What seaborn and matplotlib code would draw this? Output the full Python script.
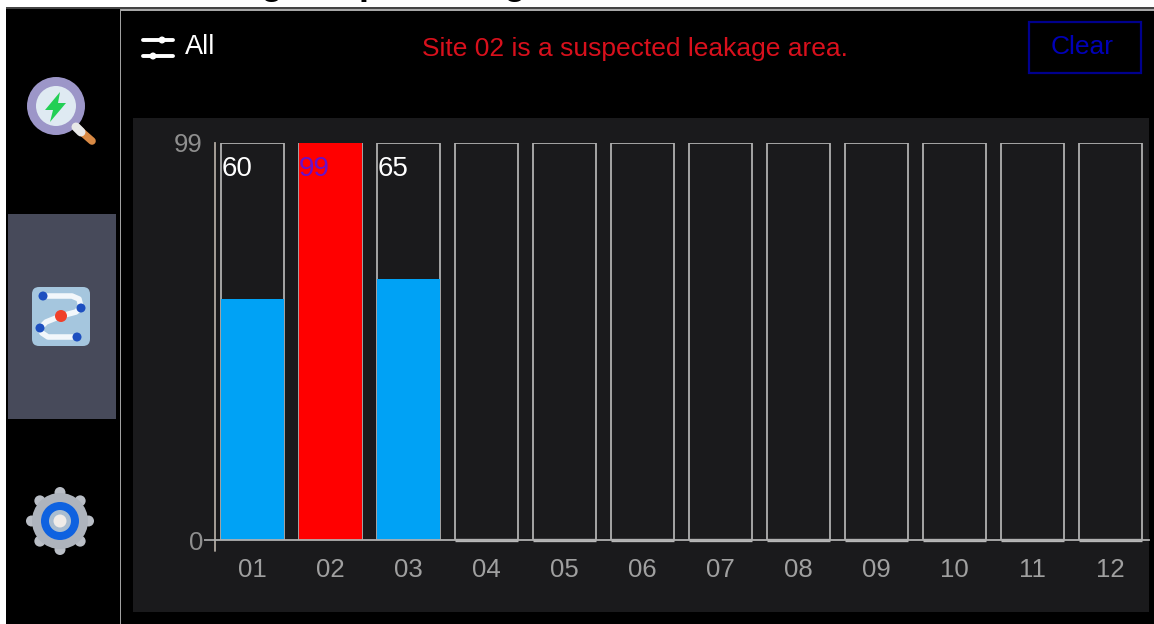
"""Leakage site screen: bar per site against a 0-99 scale, with the device UI around it."""
import matplotlib
matplotlib.use("Agg")
import matplotlib.pyplot as plt
from matplotlib.patches import Circle, FancyBboxPatch, Polygon, Rectangle
import numpy as np
import pandas as pd
import seaborn as sns

sites = ["01", "02", "03", "04", "05", "06", "07", "08", "09", "10", "11", "12"]
values = [60, 99, 65, 0, 0, 0, 0, 0, 0, 0, 0, 0]
bar_colors = ["#00a2f5", "#ff0000", "#00a2f5"] + ["#00a2f5"] * 9
y_max = 99
value_labels = {"01": "60", "02": "99", "03": "65"}
label_colors = {"01": "white", "02": "#6a10c8", "03": "white"}
message = "Site 02 is a suspected leakage area."
filter_label = "All"
clear_label = "Clear"

W, H = 1154, 624
sns.set_theme(style="white")
plt.rcParams["font.family"] = ["Liberation Sans", "DejaVu Sans"]

fig = plt.figure(figsize=(W / 100, H / 100), dpi=100, facecolor="white")

# overlay in pixel coordinates for the screen furniture
ui = fig.add_axes([0, 0, 1, 1], zorder=0)
ui.set_xlim(0, W)
ui.set_ylim(H, 0)
ui.axis("off")
ui.add_patch(Rectangle((6, 8), W - 6, H - 8, fc="black", ec="none"))
ui.add_patch(Rectangle((6, 7), W - 6, 1.5, fc="#444444", ec="none"))
ui.add_patch(Rectangle((120, 9), W - 120, 1.6, fc="#a8a8a8", ec="none"))
ui.add_patch(Rectangle((119.5, 9), 1.4, H - 9, fc="#a0a0a0", ec="none"))
ui.add_patch(Rectangle((133, 118), 1016, 494, fc="#1a1a1c", ec="none"))
ui.add_patch(Rectangle((8, 214), 108, 205, fc="#474a5a", ec="none"))

# only the descenders of the page heading survive above the screen
for gx, glyph in [(272, "g"), (370, "p"), (515, "g")]:
    ui.text(gx, -6, glyph, color="black", fontsize=26, fontweight="bold",
            ha="center", va="baseline", clip_on=False)

# filter icon
for yy, xx in [(40, 162), (56, 153)]:
    ui.plot([143, 173], [yy, yy], color="white", lw=2.8, solid_capstyle="round")
    ui.add_patch(Circle((xx, yy), 3.5, fc="white", ec="none", zorder=3))
ui.text(185, 46.5, filter_label, color="white", fontsize=19.5, va="center")
ui.text(634.5, 49, message, color="#d8101c", fontsize=19, va="center", ha="center")

# clear button
ui.add_patch(Rectangle((1028.5, 21.5), 112, 51, fc="none", ec="#00008e", lw=1.6))
ui.text(1082, 47, clear_label, color="#0000b8", fontsize=19, va="center", ha="center")

# magnifier icon
ui.plot([76, 92], [127, 141], color="#d98a45", lw=5.5, solid_capstyle="round")
ui.plot([76, 81], [127, 132], color="#e8e8e8", lw=6.5, solid_capstyle="round")
ui.add_patch(Circle((56, 106), 29, fc="#9c96c8", ec="none"))
ui.add_patch(Circle((56, 106), 20, fc="#dfeaf2", ec="none"))
ui.add_patch(Polygon([(60, 92), (45, 110), (53, 110), (50, 122), (66, 103), (58, 103)],
                     fc="#22cf55", ec="none", zorder=3))

# network icon
ui.add_patch(FancyBboxPatch((32, 287), 58, 59, boxstyle="round,pad=0,rounding_size=7",
                            fc="#a5c6de", ec="none"))
ui.plot([43, 72, 79, 81, 76, 61, 46, 40, 42, 48, 77],
        [296, 296, 299, 307, 312, 316, 322, 328, 333, 337, 337],
        color="#f2f7fb", lw=4)
for cx, cy, col, r in [(43, 296, "#1d4fc0", 4.5), (81, 308, "#1d4fc0", 4.5),
                       (40, 328, "#1d4fc0", 4.5), (77, 337, "#1d4fc0", 4.5),
                       (61, 316, "#f0402a", 6)]:
    ui.add_patch(Circle((cx, cy), r, fc=col, ec="none", zorder=3))

# gear icon
angles = np.linspace(0, 2 * np.pi, 9)[:-1] + np.pi / 2
for a in angles:
    ui.add_patch(Circle((60 + 28.5 * np.cos(a), 521 - 28.5 * np.sin(a)), 5.5,
                        fc="#b9bec6", ec="none"))
ui.add_patch(Circle((60, 521), 28, fc="#aeb4bd", ec="none"))
ui.add_patch(Circle((60, 521), 19, fc="#0f62e0", ec="none"))
ui.add_patch(Circle((60, 521), 11, fc="#a9bdd0", ec="none"))
ui.add_patch(Circle((60, 521), 6.5, fc="#f0ece8", ec="none"))

# left spine runs a little below the x axis
ui.plot([215, 215], [540, 551], color="#b0a8a0", lw=1.3)

# chart axes: left spine at x=215, right edge 1149, y from 540 (0) to 143 (99)
ax = fig.add_axes([215 / W, 1 - 540 / H, (1149 - 215) / W, (540 - 143) / H], zorder=1)
ax.patch.set_alpha(0)
df = pd.DataFrame({"site": sites, "value": values})
# full-scale outline behind each site
sns.barplot(data=df.assign(value=y_max), x="site", y="value", order=sites, ax=ax,
            fill=False, edgecolor="#b0b0b0", linewidth=1.3, errorbar=None, width=0.8)
n_outline = len(ax.patches)
sns.barplot(data=df, x="site", y="value", order=sites, hue="site", palette=bar_colors,
            legend=False, ax=ax, errorbar=None, width=0.8, linewidth=0, saturation=1)
# sites with no reading show as a bright line on the baseline
for bar in ax.patches[n_outline:]:
    if bar.get_height() == 0:
        bar.set_edgecolor("#b8b8b8")
        bar.set_linewidth(2.4)
        bar.set_clip_on(False)
ax.set_xlim(-0.48, 11.495)
ax.set_ylim(0, y_max)
ax.set_xlabel("")
ax.set_ylabel("")
ax.set_yticks([0, y_max])
ax.set_yticklabels(["0", "99"], color="#8f8f8f", fontsize=18.5)
ax.tick_params(axis="y", length=8, width=1.2, color="#b0b0b0", pad=0.7, left=True)
ax.tick_params(axis="x", length=0, pad=13, labelsize=18.5, labelcolor="#a0a0a0")
ax.yaxis.get_major_ticks()[1].tick1line.set_visible(False)
for side in ("top", "right"):
    ax.spines[side].set_visible(False)
ax.spines["left"].set_color("#b0a8a0")
ax.spines["left"].set_linewidth(1.3)
ax.spines["bottom"].set_color("#b0b0b0")
ax.spines["bottom"].set_linewidth(1.3)

for i, site in enumerate(sites):
    if site in value_labels:
        ax.text(i - 0.4, y_max * 0.935, value_labels[site], color=label_colors[site],
                fontsize=20, va="center", ha="left", zorder=5)

fig.savefig("out.png", dpi=100, facecolor="white")
